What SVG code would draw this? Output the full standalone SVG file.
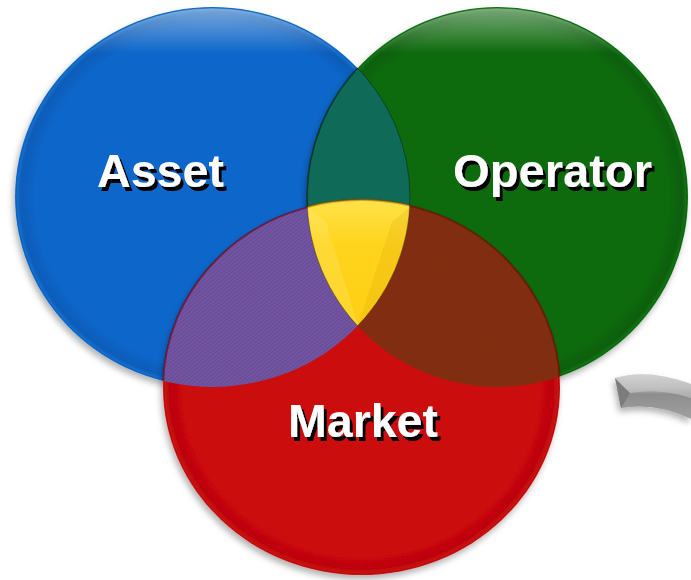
<svg xmlns="http://www.w3.org/2000/svg" width="691" height="580" viewBox="0 0 691 580">
<defs>
<style>
.lbl{font-family:"Liberation Sans",Arial,sans-serif;font-weight:bold;font-size:47px;fill:#ffffff;filter:url(#ts)}
.edge{fill:none;stroke:#000;stroke-opacity:0.35;stroke-width:1}
</style>
<filter id="ts" x="-10%" y="-20%" width="125%" height="150%">
<feDropShadow dx="3" dy="4" stdDeviation="0.6" flood-color="#000" flood-opacity="1"/>
</filter>
<filter id="ds" x="-10%" y="-10%" width="120%" height="125%">
<feDropShadow dx="-2" dy="4" stdDeviation="3" flood-color="#000" flood-opacity="0.3"/>
</filter>
<radialGradient id="gB" cx="0.5" cy="0.5" r="0.5">
<stop offset="0" stop-color="#0b66c9"/>
<stop offset="0.9" stop-color="#0b66c9"/>
<stop offset="0.97" stop-color="#0a5cb8"/>
<stop offset="1" stop-color="#1a78da"/>
</radialGradient>
<radialGradient id="gG" cx="0.5" cy="0.5" r="0.5">
<stop offset="0" stop-color="#096a0b"/>
<stop offset="0.9" stop-color="#096a0b"/>
<stop offset="0.97" stop-color="#075e09"/>
<stop offset="1" stop-color="#1a7d1c"/>
</radialGradient>
<radialGradient id="gR" cx="0.5" cy="0.5" r="0.5">
<stop offset="0" stop-color="#cc0709"/>
<stop offset="0.9" stop-color="#cc0709"/>
<stop offset="0.97" stop-color="#bb0507"/>
<stop offset="1" stop-color="#d91a1a"/>
</radialGradient>
<linearGradient id="hl" x1="0" y1="0" x2="0" y2="1">
<stop offset="0" stop-color="#fff" stop-opacity="0.45"/>
<stop offset="0.12" stop-color="#fff" stop-opacity="0"/>
<stop offset="1" stop-color="#fff" stop-opacity="0"/>
</linearGradient>
<linearGradient id="gY" x1="0" y1="0" x2="0" y2="1">
<stop offset="0" stop-color="#ffe24a"/>
<stop offset="0.12" stop-color="#ffd41c"/>
<stop offset="1" stop-color="#f8c200"/>
</linearGradient>
<linearGradient id="gA" x1="0" y1="0" x2="0" y2="1">
<stop offset="0" stop-color="#e0e0e0"/>
<stop offset="0.3" stop-color="#b4b4b4"/>
<stop offset="0.45" stop-color="#8e8e8e"/>
<stop offset="1" stop-color="#a0a0a0"/>
</linearGradient>
<pattern id="pP" width="3" height="3" patternUnits="userSpaceOnUse" patternTransform="rotate(-40)">
<rect width="3" height="3" fill="#6a58a6"/>
<rect width="3" height="1" fill="#7a3f86" fill-opacity="0.8"/>
</pattern>
<pattern id="pO" width="3" height="3" patternUnits="userSpaceOnUse" patternTransform="rotate(-40)">
<rect width="3" height="3" fill="#7c2e10"/>
<rect width="3" height="1" fill="#8e2a12" fill-opacity="0.8"/>
</pattern>
<clipPath id="cB"><ellipse cx="212.5" cy="197" rx="197.5" ry="190"/></clipPath>
<clipPath id="cG"><ellipse cx="497.5" cy="197" rx="190.5" ry="190"/></clipPath>
</defs>
<rect width="691" height="580" fill="#ffffff"/>

<g id="connectors">
<path d="M615,378 Q648,368 691,384 L691,419 Q656,402 621,408 Z" fill="url(#gA)" filter="url(#ds)"/>
<path d="M615,378 L630,393 L621,408 Z" fill="#7c7c7c"/>
<path d="M615,378 L630,393 Q660,388 691,398 L691,384 Q648,368 615,378 Z" fill="#c8c8c8" fill-opacity="0.6"/>
</g>

<g id="asset">
<ellipse cx="212.5" cy="197" rx="197.5" ry="190" fill="url(#gB)" filter="url(#ds)"/>
<ellipse cx="212.5" cy="197" rx="196.5" ry="189" fill="url(#hl)" stroke="#0a4a90" stroke-opacity="0.5"/>
</g>
<g id="operator">
<ellipse cx="497.5" cy="197" rx="190.5" ry="190" fill="url(#gG)" filter="url(#ds)"/>
<ellipse cx="497.5" cy="197" rx="189.5" ry="189" fill="url(#hl)" stroke="#054a07" stroke-opacity="0.5"/>
</g>
<g id="market">
<ellipse cx="361.5" cy="387.5" rx="198.5" ry="187.5" fill="url(#gR)" filter="url(#ds)"/>
<ellipse cx="361.5" cy="387.5" rx="197.5" ry="186.5" fill="none" stroke="#8a0000" stroke-opacity="0.5"/>
</g>

<g id="overlaps">
<g clip-path="url(#cB)">
<ellipse cx="497.5" cy="197" rx="190.5" ry="190" fill="#0f6a58" stroke="#053a30" stroke-width="2" stroke-opacity="0.6"/>
</g>
<g clip-path="url(#cB)">
<ellipse cx="361.5" cy="387.5" rx="198.5" ry="187.5" fill="url(#pP)" stroke="#6a0010" stroke-width="2" stroke-opacity="0.6"/>
</g>
<g clip-path="url(#cG)">
<ellipse cx="361.5" cy="387.5" rx="198.5" ry="187.5" fill="url(#pO)" stroke="#5a1000" stroke-width="2" stroke-opacity="0.6"/>
</g>
<g clip-path="url(#cB)">
<g clip-path="url(#cG)">
<ellipse cx="361.5" cy="387.5" rx="198.5" ry="187.5" fill="url(#gY)" stroke="#b08800" stroke-width="2" stroke-opacity="0.6"/>
<path d="M307,207 L326,222 L358,325 L300,330 Z" fill="#fff3a0" fill-opacity="0.18"/>
<path d="M412,205 L392,222 L358,325 L420,330 Z" fill="#c89000" fill-opacity="0.15"/>
</g>
</g>
<g clip-path="url(#cB)"><ellipse cx="497.5" cy="197" rx="190.5" ry="190" class="edge"/></g>
<g clip-path="url(#cG)"><ellipse cx="212.5" cy="197" rx="197.5" ry="190" class="edge"/></g>
</g>

<g id="labels">
<text class="lbl" x="97" y="187" textLength="127" lengthAdjust="spacingAndGlyphs">Asset</text>
<text class="lbl" x="453" y="187" textLength="199" lengthAdjust="spacingAndGlyphs">Operator</text>
<text class="lbl" x="288" y="437" textLength="150" lengthAdjust="spacingAndGlyphs">Market</text>
</g>
</svg>
